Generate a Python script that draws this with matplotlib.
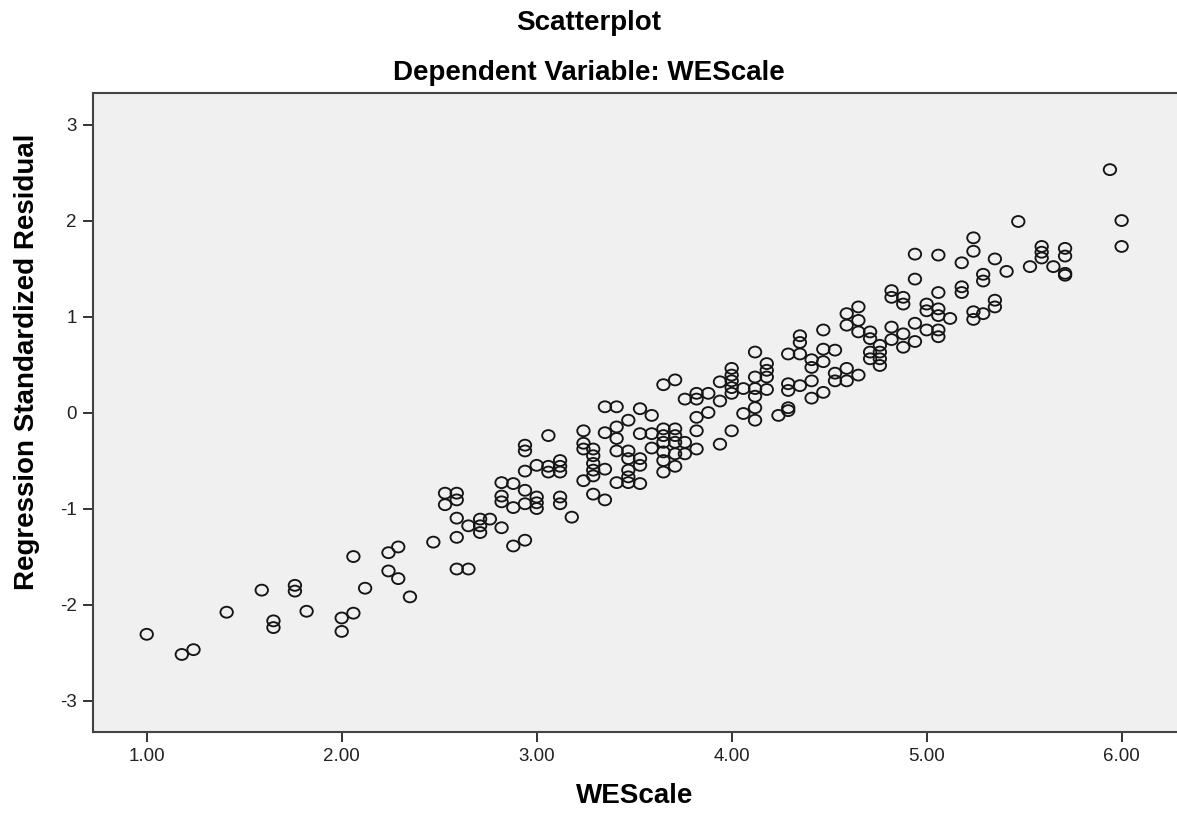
import numpy as np
import matplotlib
matplotlib.use("Agg")
import matplotlib.pyplot as plt
from matplotlib.path import Path
from matplotlib.transforms import Affine2D

plt.rcParams["font.family"] = ["Liberation Sans", "DejaVu Sans"]

# WEScale levels (mean of 17 items) and the standardized residuals at each level
we_levels = [1.00, 1.18, 1.24, 1.41, 1.59, 1.65, 1.76, 1.82, 2.00, 2.06,
             2.12, 2.24, 2.29, 2.35, 2.47, 2.53, 2.59, 2.65, 2.71, 2.76,
             2.82, 2.88, 2.94, 3.00, 3.06, 3.12, 3.18, 3.24, 3.29, 3.35,
             3.41, 3.47, 3.53, 3.59, 3.65, 3.71, 3.76, 3.82, 3.88, 3.94,
             4.00, 4.06, 4.12, 4.18, 4.24, 4.29, 4.35, 4.41, 4.47, 4.53,
             4.59, 4.65, 4.71, 4.76, 4.82, 4.88, 4.94, 5.00, 5.06, 5.12,
             5.18, 5.24, 5.29, 5.35, 5.41, 5.47, 5.53, 5.59, 5.65, 5.71,
             5.94, 6.00]
resid_by_level = [
    [-2.31], [-2.52], [-2.47], [-2.08], [-1.85], [-2.17, -2.24],
    [-1.80, -1.86], [-2.07], [-2.14, -2.28], [-1.50, -2.09],
    [-1.83], [-1.46, -1.65], [-1.40, -1.73], [-1.92], [-1.35],
    [-0.84, -0.96], [-0.84, -0.91, -1.10, -1.30, -1.63], [-1.18, -1.63],
    [-1.11, -1.18, -1.25], [-1.11],
    [-0.73, -0.87, -0.93, -1.20], [-0.74, -0.99, -1.39],
    [-0.34, -0.40, -0.61, -0.81, -0.95, -1.33], [-0.55, -0.88, -0.94, -1.00],
    [-0.24, -0.56, -0.62], [-0.50, -0.56, -0.62, -0.88, -0.95], [-1.09],
    [-0.19, -0.32, -0.38, -0.71], [-0.38, -0.45, -0.53, -0.60, -0.66, -0.85],
    [0.06, -0.21, -0.59, -0.91],
    [0.06, -0.15, -0.27, -0.40, -0.73], [-0.08, -0.40, -0.48, -0.60, -0.67, -0.73],
    [0.04, -0.22, -0.48, -0.55, -0.74], [-0.03, -0.22, -0.37],
    [0.29, -0.17, -0.24, -0.31, -0.41, -0.50, -0.62],
    [0.34, -0.17, -0.24, -0.31, -0.43, -0.56], [0.14, -0.31, -0.43],
    [0.20, 0.14, -0.05, -0.19, -0.38], [0.20, 0.00], [0.32, 0.12, -0.33],
    [0.46, 0.39, 0.33, 0.26, 0.20, -0.19], [0.25, -0.01],
    [0.63, 0.37, 0.25, 0.17, 0.05, -0.08], [0.51, 0.44, 0.37, 0.24], [-0.03],
    [0.61, 0.30, 0.23, 0.05, 0.02], [0.80, 0.73, 0.61, 0.28],
    [0.55, 0.47, 0.33, 0.15], [0.86, 0.66, 0.53, 0.21], [0.65, 0.41, 0.33],
    [1.03, 0.91, 0.46, 0.33], [1.10, 0.96, 0.84, 0.39], [0.84, 0.77, 0.63, 0.56],
    [0.70, 0.63, 0.56, 0.49], [1.27, 1.20, 0.89, 0.76], [1.20, 1.13, 0.82, 0.68],
    [1.65, 1.39, 0.93, 0.74], [1.13, 1.06, 0.86],
    [1.64, 1.25, 1.08, 1.01, 0.86, 0.79], [0.98],
    [1.56, 1.31, 1.25], [1.82, 1.68, 1.05, 0.97], [1.44, 1.37, 1.03],
    [1.60, 1.17, 1.10], [1.47], [1.99], [1.52], [1.73, 1.67, 1.61], [1.52],
    [1.71, 1.63, 1.45, 1.43], [2.53], [2.00, 1.73]]

x_ticks = [1.00, 2.00, 3.00, 4.00, 5.00, 6.00]
y_ticks = [-3, -2, -1, 0, 1, 2, 3]

wescale = np.concatenate([[lv] * len(r) for lv, r in zip(we_levels, resid_by_level)])
std_resid = np.concatenate(resid_by_level)

# slightly flattened open circle, like the SPSS default marker
ellipse = Path.unit_circle().transformed(Affine2D().scale(1.0, 0.88))

fig = plt.figure(figsize=(11.77, 8.14), dpi=100)
ax = fig.add_axes([0.0786, 0.1007, 0.9214, 0.785])
ax.set_facecolor("#f0f0f0")
ax.scatter(wescale, std_resid, marker=ellipse, s=80, facecolors="none",
           edgecolors="#151515", linewidths=1.35, zorder=3)

ax.set_xlim(0.722, 6.284)
ax.set_ylim(-3.328, 3.328)
ax.set_xticks(x_ticks)
ax.set_xticklabels([f"{v:.2f}" for v in x_ticks])
ax.set_yticks(y_ticks)
ax.set_yticklabels([str(v) for v in y_ticks])
ax.tick_params(direction="out", length=7.5, width=1.4, color="#333333",
               labelsize=13.5, labelcolor="#222222", pad=4)
for side in ["left", "top", "bottom"]:
    ax.spines[side].set_color("#444444")
    ax.spines[side].set_linewidth(1.5)
ax.spines["right"].set_visible(False)

fig.text(0.5, 1 - 30 / 814, "Scatterplot", ha="center", va="baseline",
         fontsize=20, fontweight="bold")
fig.text(0.5, 1 - 80 / 814, "Dependent Variable: WEScale", ha="center",
         va="baseline", fontsize=20, fontweight="bold")
fig.text(27 / 1177, 1 - 362 / 814, "Regression Standardized Residual",
         rotation=90, ha="center", va="center", fontsize=20, fontweight="bold")
fig.text(635 / 1177, 1 - 803 / 814, "WEScale", ha="center", va="baseline",
         fontsize=20, fontweight="bold")

fig.savefig("out.png", dpi=100)
